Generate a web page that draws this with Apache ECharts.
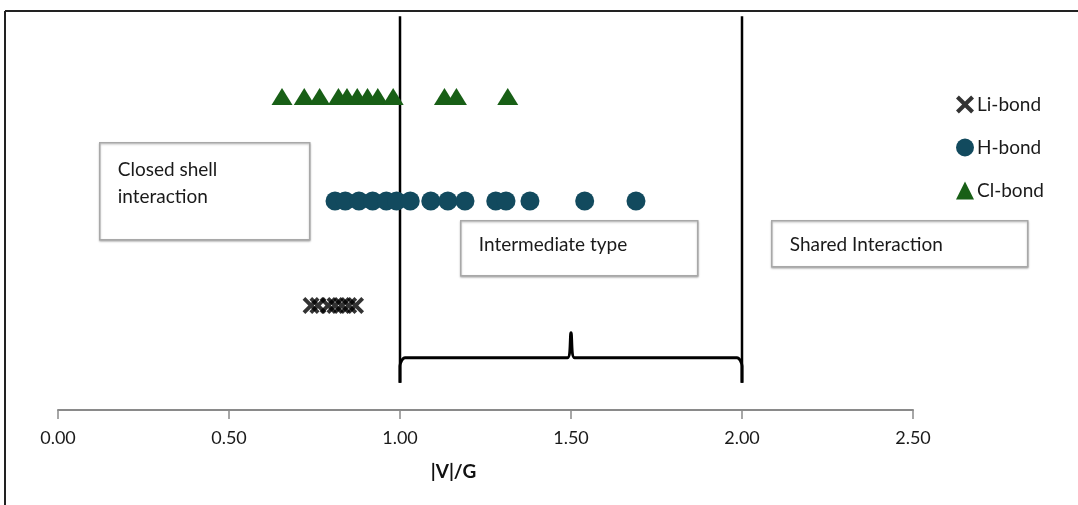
<!DOCTYPE html>
<html>
<head>
<meta charset="utf-8">
<script src="https://cdn.jsdelivr.net/npm/echarts@6/dist/echarts.min.js"></script>
<style>
  html, body { margin: 0; padding: 0; background: #fff; }
  #chart { width: 1078px; height: 505px; }
</style>
</head>
<body>
<div id="chart"></div>
<script>
// |V|/G values, one row per bond type
const liBond = [0.74, 0.76, 0.79, 0.81, 0.83, 0.85, 0.87];
const hBond  = [0.81, 0.84, 0.88, 0.92, 0.96, 0.99, 1.03, 1.09, 1.14, 1.19, 1.28, 1.31, 1.38, 1.54, 1.69];
const clBond = [0.655, 0.72, 0.765, 0.82, 0.845, 0.875, 0.905, 0.935, 0.98, 1.13, 1.165, 1.315];
const rowY = { li: 1, h: 2, cl: 3 };

const xTicks = [0, 0.5, 1, 1.5, 2, 2.5];

// region borders (|V|/G = 1 and 2) and the brace under "Intermediate type"
const borders = [1, 2];
const borderSpan = [0.26, 3.77];
const brace = [[1.0, 0.26], [1.0, 0.42], [1.015, 0.5], [1.49, 0.5], [1.5, 0.74], [1.51, 0.5], [1.985, 0.5], [2.0, 0.42], [2.0, 0.26]];

const FONT = 'Lato, "Open Sans", sans-serif';
const X_ICON = 'path://M0,1.6L1.6,0L5,3.4L8.4,0L10,1.6L6.6,5L10,8.4L8.4,10L5,6.6L1.6,10L0,8.4L3.4,5Z';

const chart = echarts.init(document.getElementById('chart'), null, { renderer: 'canvas' });

const lineSeries = borders.map(b => ({
  type: 'line', silent: true, symbol: 'none', z: 1,
  lineStyle: { color: '#000', width: 2.5 },
  data: borderSpan.map(y => [b, y])
}));

// annotation box: rect plus text, text centre offset from box top
function box(x, y, w, h, text, textMid) {
  return {
    type: 'group', left: x, top: y,
    children: [
      { type: 'rect', shape: { x: 0, y: 0, width: w, height: h },
        style: { fill: '#fff', stroke: '#a8a8a8', lineWidth: 1.5, shadowBlur: 2, shadowColor: 'rgba(0,0,0,0.25)', shadowOffsetY: 1 } },
      { type: 'text', x: 18, y: textMid,
        style: { text: text, fill: '#1a1a1a', font: '19px ' + FONT, lineHeight: 27, verticalAlign: 'middle' } }
    ]
  };
}

chart.setOption({
  animation: false,
  backgroundColor: '#fff',
  grid: { left: 58, width: 855, top: 13, bottom: 95 },
  xAxis: {
    type: 'value', min: 0, max: 2.5, interval: 0.5,
    axisLine: { lineStyle: { color: '#8a8a8a', width: 2 } },
    axisTick: { show: true, length: 9, lineStyle: { color: '#8a8a8a', width: 1.5 } },
    axisLabel: { color: '#1a1a1a', fontSize: 18, fontFamily: FONT, margin: 19,
                 formatter: v => xTicks.includes(v) ? v.toFixed(2) : '' },
    splitLine: { show: false },
    name: '|V|/G', nameLocation: 'middle', nameGap: 52,
    nameTextStyle: { color: '#111', fontSize: 19, fontWeight: 'bold', fontFamily: FONT, padding: [0, 64, 0, 0] }
  },
  yAxis: { type: 'value', min: 0, max: 3.8, show: false },
  legend: {
    data: ['Li-bond', 'H-bond', 'Cl-bond'],
    orient: 'vertical', left: 951, top: 90, itemGap: 24,
    itemWidth: 18, itemHeight: 18,
    textStyle: { color: '#1a1a1a', fontSize: 19, fontFamily: FONT, padding: [0, 0, 0, -2] }
  },
  graphic: [
    { type: 'line', shape: { x1: 5, y1: 11, x2: 1078, y2: 11 }, style: { stroke: '#222', lineWidth: 2 } },
    { type: 'line', shape: { x1: 5, y1: 11, x2: 5, y2: 505 }, style: { stroke: '#222', lineWidth: 2 } },
    box(99, 142, 210, 97, 'Closed shell\ninteraction', 41),
    box(460, 220, 237, 55, 'Intermediate type', 24),
    box(771, 220, 256, 46, 'Shared Interaction', 24)
  ],
  series: [
    ...lineSeries,
    { type: 'line', silent: true, symbol: 'none', z: 1, smooth: 0.3,
      lineStyle: { color: '#000', width: 3 }, data: brace },
    { name: 'Li-bond', type: 'scatter', symbol: X_ICON, symbolSize: 17, z: 3,
      itemStyle: { color: '#000' }, data: liBond.map(v => [v, rowY.li]) },
    { name: 'H-bond', type: 'scatter', symbol: 'circle', symbolSize: 19, z: 3,
      itemStyle: { color: '#124a5e', opacity: 1 }, data: hBond.map(v => [v, rowY.h]) },
    { name: 'Cl-bond', type: 'scatter', symbol: 'triangle', symbolSize: [21, 17], z: 3,
      itemStyle: { color: '#185f16', opacity: 1 }, data: clBond.map(v => [v, rowY.cl]) }
  ]
});
</script>
</body>
</html>
